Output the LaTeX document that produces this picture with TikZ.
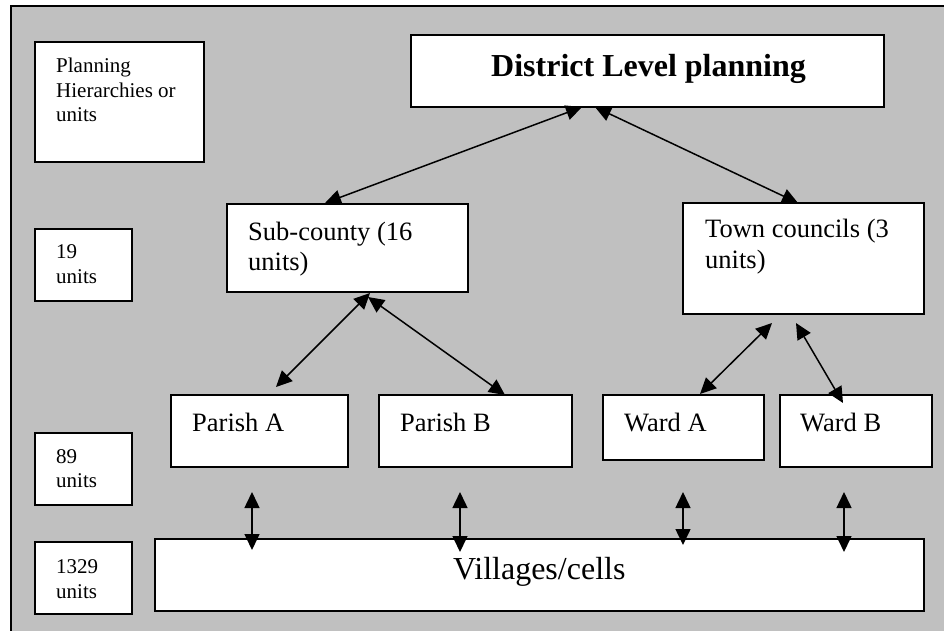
\documentclass[tikz,border=0pt]{standalone}
\usepackage{fontspec}
\setmainfont{Liberation Serif}
\usetikzlibrary{arrows.meta}
\definecolor{panelgray}{HTML}{C0C0C0}
\tikzset{
  box/.style={draw=black, fill=white, line width=1.6pt, inner sep=0pt, outer sep=0pt},
  smalltxt/.style={anchor=base west, inner sep=0pt, font=\fontsize{21}{24}\selectfont},
  midtxt/.style={anchor=base west, inner sep=0pt, font=\fontsize{26.5}{30}\selectfont},
  bigtxt/.style={anchor=base west, inner sep=0pt, font=\fontsize{32}{36}\selectfont\bfseries},
  vtxt/.style={anchor=base west, inner sep=0pt, font=\fontsize{32}{36}\selectfont},
  biarrow/.style={line width=1.5pt, {Triangle[length=16pt,width=15pt]}-{Triangle[length=16pt,width=15pt]}}
}
\begin{document}
\begin{tikzpicture}[x=1pt,y=-1pt]
\useasboundingbox (0,0) rectangle (944,630);
\clip (0,0) rectangle (944,630);
\fill[white] (0,0) rectangle (944,630);
\draw[fill=panelgray, line width=1.2pt] (11,6) rectangle (970,660);

% left column boxes
\node[box, minimum width=169pt, minimum height=120pt] (plan) at (119.5,102) {};
\node[box, minimum width=97pt, minimum height=72pt] (u19) at (83.5,265) {};
\node[box, minimum width=97pt, minimum height=72pt] (u89) at (83.5,469) {};
\node[box, minimum width=97pt, minimum height=72pt] (u1329) at (83.5,578) {};

% hierarchy boxes
\node[box, minimum width=473pt, minimum height=72pt] (district) at (647.5,71) {};
\node[box, minimum width=241pt, minimum height=88pt] (sub) at (347.5,248) {};
\node[box, minimum width=241pt, minimum height=111pt] (town) at (803.5,258.5) {};
\node[box, minimum width=177pt, minimum height=72pt] (parA) at (259.5,431) {};
\node[box, minimum width=193pt, minimum height=72pt] (parB) at (475.5,431) {};
\node[box, minimum width=161pt, minimum height=65pt] (wardA) at (683.5,427.5) {};
\node[box, minimum width=152pt, minimum height=72pt] (wardB) at (856,431) {};
\node[box, minimum width=769pt, minimum height=72pt] (vill) at (539.5,575) {};

% texts
\node[smalltxt] (pl1) at (56,72) {Planning};
\node[smalltxt] (pl2) at (56,97) {Hierarchies or};
\node[smalltxt] (pl3) at (56,121) {units};
\node[smalltxt] (n19a) at (56,258) {19};
\node[smalltxt] (n19b) at (56,283) {units};
\node[smalltxt] (n89a) at (56,463) {89};
\node[smalltxt] (n89b) at (56,487) {units};
\node[smalltxt] (n13a) at (56,573) {1329};
\node[smalltxt] (n13b) at (56,598) {units};

\node[bigtxt] (dtxt) at (491,76) {District Level planning};
\node[midtxt] (sub1) at (248,240) {Sub-county (16};
\node[midtxt] (sub2) at (248,270) {units)};
\node[midtxt] (town1) at (705,237) {Town councils (3};
\node[midtxt] (town2) at (705,268) {units)};
\node[midtxt] (patxt) at (192,431) {Parish A};
\node[midtxt] (pbtxt) at (400,431) {Parish B};
\node[midtxt] (watxt) at (624,431) {Ward A};
\node[midtxt] (wbtxt) at (800,431) {Ward B};
\node[vtxt] (vtxt1) at (453,579) {Villages/cells};

% connector end points
\coordinate (d1) at (325,203);
\coordinate (d2) at (582,107);
\coordinate (d3) at (595,107);
\coordinate (d4) at (798,203);
\coordinate (s1) at (370,293);
\coordinate (s2) at (276,387);
\coordinate (s3) at (368,297);
\coordinate (s4) at (505,395);
\coordinate (t1) at (772,323);
\coordinate (t2) at (700,394);
\coordinate (t3) at (796,323);
\coordinate (t4) at (843,403);
\coordinate (va1) at (252,492);
\coordinate (va2) at (252,550);
\coordinate (vb1) at (460,492);
\coordinate (vb2) at (460,552);
\coordinate (vc1) at (683,492);
\coordinate (vc2) at (683,545);
\coordinate (vd1) at (844,492);
\coordinate (vd2) at (844,552);

% connectors
\draw[biarrow] (d1) -- (d2);
\draw[biarrow] (d3) -- (d4);
\draw[biarrow] (s1) -- (s2);
\draw[biarrow] (s3) -- (s4);
\draw[biarrow] (t1) -- (t2);
\draw[biarrow] (t3) -- (t4);
\draw[biarrow] (va1) -- (va2);
\draw[biarrow] (vb1) -- (vb2);
\draw[biarrow] (vc1) -- (vc2);
\draw[biarrow] (vd1) -- (vd2);
\end{tikzpicture}
\end{document}
